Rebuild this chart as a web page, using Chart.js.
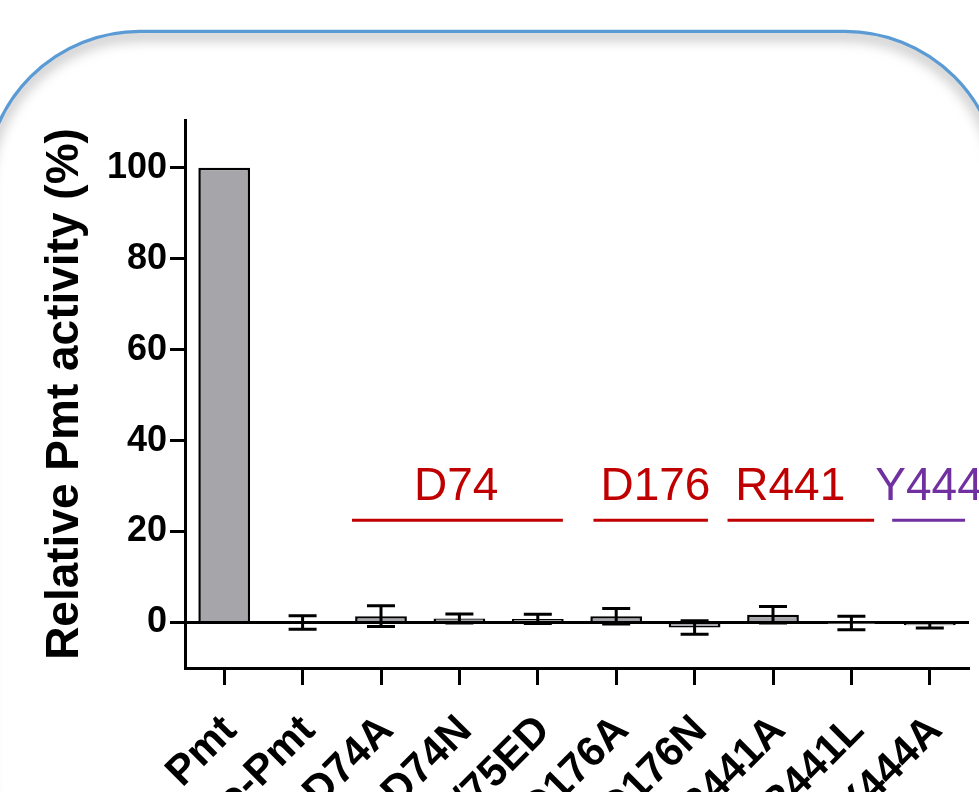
<!DOCTYPE html>
<html>
<head>
<meta charset="utf-8">
<script src="https://cdn.jsdelivr.net/npm/chart.js@4.4.0/dist/chart.umd.min.js"></script>
<style>
  html, body { margin: 0; padding: 0; background: #fff; overflow: hidden; }
  #wrap { width: 979px; height: 792px; position: relative; }
</style>
</head>
<body>
<div id="wrap"><canvas id="activityChart" width="979" height="792"></canvas></div>
<script>
// data
const categories = ['Pmt', 'Apo-Pmt', 'D74A', 'D74N', 'D74/75ED', 'D176A', 'D176N', 'R441A', 'R441L', 'Y444A'];
const activity = [100, 0, 1.4, 0.9, 0.8, 1.4, -1.1, 1.7, -0.1, -0.6];
const activityErr = [0, 1.5, 2.3, 1.0, 1.0, 1.7, 1.5, 1.8, 1.5, 0.6];
const yTicks = [0, 20, 40, 60, 80, 100];

// residue groups above the bars (in category index units)
const groupLabels = ['D74', 'D176', 'R441', 'Y444'];
const groupColors = ['#c00000', '#c00000', '#c00000', '#7030a0'];
const groupFrom = [1.63, 4.71, 6.42, 8.52];
const groupTo = [4.32, 6.17, 8.29, 9.45];
const groupTextAt = [2.96, 5.5, 7.22, 8.99];
const groupLineAt = 22.5;
const groupTextAtY = 27;

const FONT = '"Liberation Sans", Arial, sans-serif';

// rounded blue frame with soft inner shadow
const framePlugin = {
    id: 'frame',
    beforeDraw(chart) {
        const ctx = chart.ctx;
        ctx.save();
        ctx.fillStyle = '#fff';
        ctx.fillRect(0, 0, chart.width, chart.height);
        ctx.beginPath();
        ctx.roundRect(-15, 31, 1015, 900, 155);
        ctx.save();
        ctx.clip();
        ctx.shadowColor = 'rgba(0,0,0,0.6)';
        ctx.shadowBlur = 14;
        ctx.shadowOffsetY = 4;
        ctx.strokeStyle = '#5b9bd5';
        ctx.lineWidth = 4;
        ctx.stroke();
        ctx.restore();
        ctx.strokeStyle = '#5b9bd5';
        ctx.lineWidth = 2.5;
        ctx.stroke();
        ctx.restore();
    }
};

const errorBarPlugin = {
    id: 'errorBars',
    afterDatasetsDraw(chart) {
        const ctx = chart.ctx;
        const ys = chart.scales.y;
        const meta = chart.getDatasetMeta(0);
        ctx.save();
        ctx.strokeStyle = '#000';
        ctx.lineWidth = 3;
        meta.data.forEach((bar, i) => {
            const e = activityErr[i];
            if (!e) return;
            const top = ys.getPixelForValue(activity[i] + e);
            const bot = ys.getPixelForValue(activity[i] - e);
            const x = bar.x;
            ctx.beginPath();
            ctx.moveTo(x, top); ctx.lineTo(x, bot);
            ctx.moveTo(x - 14, top); ctx.lineTo(x + 14, top);
            ctx.moveTo(x - 14, bot); ctx.lineTo(x + 14, bot);
            ctx.stroke();
        });
        ctx.restore();
    }
};

const groupPlugin = {
    id: 'groups',
    afterDraw(chart) {
        const ctx = chart.ctx;
        const xs = chart.scales.x, ys = chart.scales.y;
        ctx.save();
        ctx.font = '46px ' + FONT;
        ctx.textAlign = 'center';
        ctx.textBaseline = 'alphabetic';
        ctx.lineWidth = 3;
        groupLabels.forEach((label, i) => {
            ctx.strokeStyle = groupColors[i];
            ctx.fillStyle = groupColors[i];
            const y = ys.getPixelForValue(groupLineAt);
            ctx.beginPath();
            ctx.moveTo(xs.getPixelForValue(groupFrom[i]), y);
            ctx.lineTo(xs.getPixelForValue(groupTo[i]), y);
            ctx.stroke();
            ctx.fillText(label, xs.getPixelForValue(groupTextAt[i]), ys.getPixelForValue(groupTextAtY));
        });
        ctx.restore();
    }
};

new Chart(document.getElementById('activityChart'), {
    type: 'bar',
    data: {
        labels: categories,
        datasets: [{
            data: activity,
            backgroundColor: '#a6a5aa',
            borderColor: '#000',
            borderWidth: 2.5,
            barPercentage: 0.66,
            categoryPercentage: 1
        }]
    },
    options: {
        responsive: false,
        animation: false,
        layout: { padding: { top: 120, left: 0, right: 10, bottom: 0 } },
        plugins: {
            legend: { display: false },
            tooltip: { enabled: false }
        },
        scales: {
            x: {
                grid: {
                    display: true,
                    offset: false,
                    drawOnChartArea: false,
                    drawTicks: true,
                    tickLength: 17,
                    tickWidth: 3,
                    tickColor: '#000'
                },
                border: { display: true, color: '#000', width: 3 },
                ticks: {
                    autoSkip: false,
                    minRotation: 45,
                    maxRotation: 45,
                    color: '#000',
                    padding: 21,
                    labelOffset: 6,
                    font: { family: FONT, size: 42, weight: 'bold' }
                },
                afterFit(scale) {
                    scale.height = 124;
                    scale.paddingLeft = 0;
                    scale.paddingRight = 0;
                }
            },
            y: {
                min: -10,
                max: 110.5,
                afterBuildTicks(scale) { scale.ticks = yTicks.map(v => ({ value: v })); },
                grid: {
                    drawOnChartArea: true,
                    color: c => (c.tick && c.tick.value === 0) ? '#000' : 'rgba(0,0,0,0)',
                    lineWidth: 3,
                    tickLength: 15,
                    tickWidth: 3,
                    tickColor: '#000'
                },
                border: { display: true, color: '#000', width: 3 },
                ticks: {
                    color: '#000',
                    padding: 3,
                    font: { family: FONT, size: 36, weight: 'bold' }
                },
                title: {
                    display: true,
                    text: 'Relative Pmt activity (%)',
                    color: '#000',
                    padding: { top: 38, bottom: 0 },
                    font: { family: FONT, size: 46, weight: 'bold' }
                },
                afterFit(scale) { scale.width = 185; }
            }
        }
    },
    plugins: [framePlugin, errorBarPlugin, groupPlugin]
});
</script>
</body>
</html>
